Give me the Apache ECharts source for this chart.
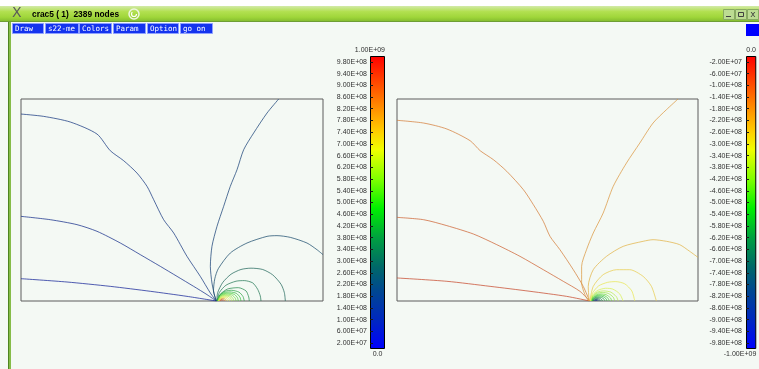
<!DOCTYPE html>
<html>
<head>
<meta charset="utf-8">
<script src="https://cdn.jsdelivr.net/npm/echarts@6/dist/echarts.min.js"></script>
<style>
  html, body { margin: 0; padding: 0; background: #f4f9f4; }
  #main { width: 759px; height: 369px; }
</style>
</head>
<body>
<div id="main"></div>
<script>
// ---- colour scale (0 = minimum / blue, 1 = maximum / red) ----
const colorStops = [
  [0.00, '#0000ff'], [0.10, '#0028c0'], [0.20, '#004890'], [0.28, '#006868'],
  [0.38, '#00a040'], [0.48, '#00f000'], [0.58, '#80ff00'], [0.68, '#f0ff00'],
  [0.74, '#ffd000'], [0.82, '#ff9000'], [0.91, '#ff4800'], [1.00, '#ff0000']
];

// ---- colour-bar ranges and tick values ----
const leftRange = [0, 1e9];
const rightRange = [-1e9, 0];
const leftTicks = [2e7, 6e7, 1e8, 1.4e8, 1.8e8, 2.2e8, 2.6e8, 3e8, 3.4e8, 3.8e8, 4.2e8, 4.6e8, 5e8,
                   5.4e8, 5.8e8, 6.2e8, 6.6e8, 7e8, 7.4e8, 7.8e8, 8.2e8, 8.6e8, 9e8, 9.4e8, 9.8e8];
const rightTicks = [-2e7, -6e7, -1e8, -1.4e8, -1.8e8, -2.2e8, -2.6e8, -3e8, -3.4e8, -3.8e8, -4.2e8, -4.6e8, -5e8,
                    -5.4e8, -5.8e8, -6.2e8, -6.6e8, -7e8, -7.4e8, -7.8e8, -8.2e8, -8.6e8, -9e8, -9.4e8, -9.8e8];

// ---- iso-lines of the left field, model coordinates (x 0..3, y 0..2), crack tip near x = 1.94 ----
const leftLevels = [6e7, 1e8, 1.4e8, 1.8e8, 2.2e8, 3e8, 3.4e8, 3.8e8, 4.2e8, 4.6e8, 5e8,
                    5.4e8, 5.8e8, 6.2e8, 6.6e8, 7e8, 7.8e8, 8.6e8, 9.4e8];
const leftC = [[0,0.221],[0.457,0.188],[0.887,0.145],[1.285,0.096],[1.649,0.046],[1.94,0]];
const leftB = [[0,0.838],[0.291,0.805],[0.556,0.756],[0.755,0.690],[0.987,0.574],[1.185,0.459],
               [1.384,0.343],[1.550,0.244],[1.715,0.145],[1.848,0.063],[1.94,0]];
const leftA = [[0,1.851],[0.225,1.828],[0.490,1.772],[0.755,1.653],[0.887,1.488],[1.020,1.389],
               [1.152,1.267],[1.252,1.135],[1.318,1.003],[1.417,0.805],[1.517,0.673],[1.649,0.442],
               [1.781,0.244],[1.881,0.079],[1.94,0]];
const leftD = [[2.560,2.0],[2.444,1.861],[2.311,1.663],[2.212,1.498],[2.146,1.300],[2.079,1.135],
               [2.013,0.937],[1.947,0.739],[1.897,0.541],[1.881,0.343],[1.897,0.178],[1.925,0.046],[1.94,0]];
const leftE = [[1.942,0],[1.912,0.100],[1.925,0.220],[1.960,0.320],[2.079,0.475],[2.245,0.574],
               [2.444,0.640],[2.543,0.647],[2.675,0.630],[2.841,0.574],[2.940,0.508],[3.0,0.459]];
const leftF = [[1.945,0],[1.954,0.083],[2.003,0.182],[2.086,0.265],[2.185,0.312],[2.285,0.325],
               [2.401,0.312],[2.500,0.259],[2.583,0.166],[2.616,0.083],[2.626,0]];
const leftG = [[1.948,0],[1.970,0.083],[2.036,0.156],[2.136,0.196],[2.218,0.202],[2.302,0.179],
               [2.351,0.116],[2.377,0.050],[2.384,0]];
const leftH = [[1.950,0],[1.980,0.067],[2.053,0.119],[2.159,0.132],[2.235,0.100],[2.262,0.040],[2.268,0]];
const leftI = [[1.952,0],[1.975,0.060],[2.030,0.097],[2.090,0.106],[2.165,0.088],[2.205,0.045],[2.218,0]];
const leftJ = [[1.954,0],[1.972,0.050],[2.020,0.083],[2.075,0.090],[2.140,0.075],[2.175,0.038],[2.185,0]];
const leftK = [[1.956,0],[1.972,0.045],[2.015,0.072],[2.065,0.078],[2.120,0.065],[2.150,0.033],[2.159,0]];
const leftL = [[1.958,0],[1.972,0.040],[2.010,0.063],[2.055,0.068],[2.100,0.057],[2.128,0.029],[2.136,0]];
const leftM = [[1.960,0],[1.973,0.034],[2.005,0.054],[2.045,0.058],[2.085,0.048],[2.106,0.024],[2.113,0]];
const leftN = [[1.962,0],[1.974,0.030],[2.002,0.046],[2.035,0.050],[2.070,0.041],[2.087,0.020],[2.093,0]];
const leftO = [[1.965,0],[1.975,0.025],[2.000,0.039],[2.027,0.042],[2.055,0.034],[2.068,0.017],[2.073,0]];
const leftP = [[1.968,0],[1.977,0.020],[1.998,0.031],[2.020,0.034],[2.040,0.027],[2.050,0.013],[2.053,0]];
const leftQ = [[1.972,0],[1.980,0.016],[1.998,0.025],[2.013,0.026],[2.028,0.020],[2.036,0]];
const leftR = [[1.976,0],[1.983,0.012],[1.998,0.018],[2.010,0.019],[2.020,0.010],[2.022,0]];
const leftS = [[1.982,0],[1.988,0.009],[2.000,0.012],[2.008,0]];
const leftLines = [leftC, leftB, leftA, leftD, leftE, leftF, leftG, leftH, leftI, leftJ,
                   leftK, leftL, leftM, leftN, leftO, leftP, leftQ, leftR, leftS];

// ---- iso-lines of the right field ----
const rightLevels = [-6e7, -1e8, -1.4e8, -1.8e8, -2.2e8, -2.6e8, -3e8, -3.4e8, -3.8e8, -4.2e8,
                     -4.6e8, -5e8, -5.4e8, -5.8e8, -6.2e8, -6.6e8, -7.4e8, -8.2e8, -9e8];
const rightC = [[0,0.228],[0.497,0.195],[0.928,0.145],[1.326,0.096],[1.690,0.046],[1.92,0]];
const rightB = [[0,0.828],[0.265,0.805],[0.497,0.746],[0.762,0.663],[0.994,0.558],[1.226,0.442],
                [1.458,0.310],[1.657,0.195],[1.823,0.096],[1.92,0]];
const rightA = [[0,1.789],[0.265,1.762],[0.497,1.703],[0.729,1.587],[0.829,1.488],[0.961,1.399],
                [1.094,1.284],[1.260,1.102],[1.359,0.954],[1.458,0.789],[1.525,0.640],[1.624,0.508],
                [1.757,0.310],[1.856,0.145],[1.92,0]];
const rightD = [[2.801,2.0],[2.685,1.894],[2.552,1.762],[2.420,1.564],[2.287,1.366],[2.155,1.135],
                [2.055,0.871],[1.956,0.673],[1.889,0.508],[1.840,0.343],[1.840,0.178],[1.873,0.063],[1.91,0]];
const rightE = [[1.915,0],[1.906,0.145],[1.956,0.310],[2.088,0.442],[2.254,0.541],[2.453,0.591],
                [2.552,0.607],[2.685,0.591],[2.817,0.558],[2.917,0.492],[3.0,0.432]];
const rightF = [[1.923,0],[1.956,0.145],[2.055,0.261],[2.188,0.310],[2.320,0.310],[2.453,0.244],
                [2.536,0.145],[2.585,0]];
const rightG = [[1.928,0],[1.950,0.080],[2.010,0.150],[2.100,0.185],[2.180,0.192],[2.270,0.170],
                [2.340,0.100],[2.370,0]];
const rightH = [[1.932,0],[1.950,0.060],[2.000,0.105],[2.080,0.126],[2.150,0.118],[2.220,0.070],[2.253,0]];
const rightI = [[1.935,0],[1.952,0.052],[1.995,0.088],[2.060,0.100],[2.130,0.088],[2.185,0.045],[2.205,0]];
const rightJ = [[1.938,0],[1.953,0.045],[1.990,0.075],[2.045,0.085],[2.105,0.075],[2.155,0.038],[2.170,0]];
const rightK = [[1.941,0],[1.954,0.038],[1.988,0.063],[2.035,0.070],[2.085,0.062],[2.128,0.030],[2.140,0]];
const rightL = [[1.944,0],[1.956,0.032],[1.985,0.053],[2.025,0.060],[2.070,0.052],[2.105,0.026],[2.115,0]];
const rightM = [[1.947,0],[1.957,0.027],[1.983,0.045],[2.018,0.050],[2.055,0.043],[2.085,0.021],[2.092,0]];
const rightN = [[1.950,0],[1.959,0.022],[1.982,0.036],[2.010,0.040],[2.040,0.034],[2.065,0.016],[2.072,0]];
const rightO = [[1.953,0],[1.961,0.018],[1.980,0.029],[2.003,0.032],[2.028,0.026],[2.050,0]];
const rightP = [[1.957,0],[1.964,0.014],[1.980,0.022],[1.998,0.024],[2.018,0.018],[2.035,0]];
const rightQ = [[1.962,0],[1.968,0.010],[1.982,0.016],[1.996,0.017],[2.010,0.011],[2.020,0]];
const rightR = [[1.968,0],[1.974,0.008],[1.986,0.011],[1.998,0.010],[2.006,0]];
const rightS = [[1.975,0],[1.981,0.005],[1.990,0.006],[1.996,0]];
const rightLines = [rightC, rightB, rightA, rightD, rightE, rightF, rightG, rightH, rightI, rightJ,
                    rightK, rightL, rightM, rightN, rightO, rightP, rightQ, rightR, rightS];

// ---- window chrome texts ----
const windowTitle = 'crac5 ( 1)  2389 nodes';
const menuItems = ['Draw', 's22-me', 'Colors', 'Param', 'Option', 'go on'];

// ---------------------------------------------------------------
function hexToRgb(h) {
  return [parseInt(h.slice(1, 3), 16), parseInt(h.slice(3, 5), 16), parseInt(h.slice(5, 7), 16)];
}
function rgbAt(t) {
  t = Math.max(0, Math.min(1, t));
  for (let i = 1; i < colorStops.length; i++) {
    if (t <= colorStops[i][0]) {
      const [t0, c0] = colorStops[i - 1];
      const [t1, c1] = colorStops[i];
      const f = (t - t0) / (t1 - t0);
      const a = hexToRgb(c0), b = hexToRgb(c1);
      return a.map((v, k) => v + (b[k] - v) * f);
    }
  }
  return hexToRgb(colorStops[colorStops.length - 1][1]);
}
// thin iso-lines are drawn slightly muted toward their own grey
function lineColor(t) {
  const c = rgbAt(t);
  const y = 0.299 * c[0] + 0.587 * c[1] + 0.114 * c[2];
  const m = c.map(v => Math.round(v * 0.62 + y * 0.38));
  return 'rgb(' + m.join(',') + ')';
}
// "9.80E+08" style labels
function sci(v) {
  if (v === 0) return '0.0';
  const [m, e] = Math.abs(v).toExponential(2).split('e');
  const n = parseInt(e, 10);
  return (v < 0 ? '-' : '') + m + 'E' + (n < 0 ? '-' : '+') + String(Math.abs(n)).padStart(2, '0');
}
const barGradient = new echarts.graphic.LinearGradient(0, 0, 0, 1,
  colorStops.map(([t, c]) => ({ offset: 1 - t, color: c })).reverse());

const tickFont = { fontFamily: 'Liberation Sans', fontSize: 7, color: '#303030' };

function contourSeries(lines, levels, range, gridIdx) {
  return lines.map((pts, i) => ({
    type: 'line',
    xAxisIndex: gridIdx, yAxisIndex: gridIdx,
    data: pts,
    showSymbol: false, symbol: 'none',
    smooth: 0.25,
    silent: true,
    clip: true,
    lineStyle: { width: 1, opacity: 0.72,
                 color: lineColor((levels[i] - range[0]) / (range[1] - range[0])) },
    z: 3
  }));
}

const chart = echarts.init(document.getElementById('main'), null, { renderer: 'canvas' });

// window decoration
const chrome = [
  { type: 'rect', shape: { x: 0, y: 0, width: 759, height: 6 }, style: { fill: '#ffffff' }, z: 0 },
  { type: 'rect', shape: { x: 0, y: 6, width: 759, height: 16 },
    style: { fill: new echarts.graphic.LinearGradient(0, 0, 0, 1, [
      { offset: 0, color: '#d2eaa8' }, { offset: 0.35, color: '#b2e050' },
      { offset: 0.7, color: '#9fd63a' }, { offset: 1, color: '#80b82e' }]) }, z: 0 },
  { type: 'rect', shape: { x: 0, y: 21, width: 759, height: 1 }, style: { fill: '#6e9e34' }, z: 0 },
  { type: 'text', x: 12, y: 6.5, style: { text: 'X', font: '14px DejaVu Sans', fill: '#5a5a5a' }, z: 1 },
  { type: 'text', x: 32, y: 14.5, style: { text: windowTitle, font: 'bold 8.4px Liberation Sans',
    fill: '#000', verticalAlign: 'middle' }, z: 1 },
  { type: 'circle', shape: { cx: 134, cy: 14, r: 5 }, style: { fill: 'none', stroke: '#eef6e0', lineWidth: 1.5 }, z: 1 },
  { type: 'arc', shape: { cx: 134, cy: 14, r: 2.5, startAngle: 0, endAngle: 4 },
    style: { fill: 'none', stroke: '#ffffff', lineWidth: 1.2 }, z: 1 },
  // minimise / maximise / close boxes
  { type: 'rect', shape: { x: 723.5, y: 9.5, width: 11, height: 10 }, style: { fill: '#bcdc92', stroke: '#88aa62' }, z: 1 },
  { type: 'rect', shape: { x: 735.5, y: 9.5, width: 11, height: 10 }, style: { fill: '#bcdc92', stroke: '#88aa62' }, z: 1 },
  { type: 'rect', shape: { x: 747.5, y: 9.5, width: 11, height: 10 }, style: { fill: '#bcdc92', stroke: '#88aa62' }, z: 1 },
  { type: 'line', shape: { x1: 726, y1: 16.5, x2: 731, y2: 16.5 }, style: { stroke: '#404040', lineWidth: 1 }, z: 2 },
  { type: 'rect', shape: { x: 738.5, y: 12.5, width: 5, height: 4 }, style: { fill: 'none', stroke: '#404040' }, z: 2 },
  { type: 'text', x: 753, y: 14.5, style: { text: 'x', font: '9px DejaVu Sans', fill: '#404040',
    align: 'center', verticalAlign: 'middle' }, z: 2 },
  // left frame edge
  { type: 'rect', shape: { x: 8, y: 22, width: 3, height: 347 }, style: { fill: '#86bc48' }, z: 0 },
  { type: 'rect', shape: { x: 8, y: 22, width: 1, height: 347 }, style: { fill: '#4f8520' }, z: 0 },
  // blue marker on the right of the menu row
  { type: 'rect', shape: { x: 746, y: 24, width: 13, height: 12 }, style: { fill: '#0000ff' }, z: 0 }
];
const menuX = [12, 45, 79, 113, 147, 180];
const menuW = [31, 33, 32, 32, 31, 32];
menuItems.forEach((label, i) => {
  chrome.push({ type: 'rect', shape: { x: menuX[i] + 0.5, y: 23.5, width: menuW[i], height: 10 },
    style: { fill: '#1434ee', stroke: '#8ea0ff', lineWidth: 1 }, z: 1 });
  chrome.push({ type: 'text', x: menuX[i] + 3, y: 28.8, style: { text: label,
    font: '7.5px DejaVu Sans Mono', fill: '#ffffff', verticalAlign: 'middle' }, z: 2 });
});

const hiddenAxis = { show: false };

const option = {
  animation: false,
  backgroundColor: '#f4f9f4',
  graphic: chrome,
  grid: [
    { left: 21, top: 99, width: 302, height: 202, show: true, borderColor: '#5c5c5c', borderWidth: 1, backgroundColor: 'transparent' },
    { left: 397, top: 99, width: 301, height: 202, show: true, borderColor: '#5c5c5c', borderWidth: 1, backgroundColor: 'transparent' },
    { left: 370, top: 56, width: 15, height: 293 },
    { left: 746, top: 56, width: 15, height: 293 }
  ],
  xAxis: [
    { type: 'value', gridIndex: 0, min: 0, max: 3, ...hiddenAxis },
    { type: 'value', gridIndex: 1, min: 0, max: 3, ...hiddenAxis },
    { type: 'category', gridIndex: 2, data: [''], axisLine: { show: false }, axisTick: { show: false },
      axisLabel: { show: false }, name: sci(leftRange[0]), nameLocation: 'middle', nameGap: 2,
      nameTextStyle: { ...tickFont, verticalAlign: 'top' } },
    { type: 'category', gridIndex: 3, position: 'top', data: [''], axisLine: { show: false }, axisTick: { show: false },
      axisLabel: { show: false }, name: sci(rightRange[1]), nameLocation: 'middle', nameGap: 2,
      nameTextStyle: { ...tickFont, verticalAlign: 'bottom' } }
  ],
  yAxis: [
    { type: 'value', gridIndex: 0, min: 0, max: 2, ...hiddenAxis },
    { type: 'value', gridIndex: 1, min: 0, max: 2, ...hiddenAxis },
    { type: 'value', gridIndex: 2, min: leftRange[0], max: leftRange[1], position: 'left', z: 5,
      axisLine: { show: false }, splitLine: { show: false },
      axisTick: { show: true, inside: true, length: 3, customValues: leftTicks, lineStyle: { color: '#1a1a1a' } },
      axisLabel: { customValues: leftTicks, formatter: sci, margin: 3, ...tickFont } },
    { type: 'value', gridIndex: 2, min: leftRange[0], max: leftRange[1], position: 'right',
      axisLine: { show: false }, splitLine: { show: false }, axisTick: { show: false }, axisLabel: { show: false },
      name: sci(leftRange[1]), nameLocation: 'end', nameGap: 2,
      nameTextStyle: { ...tickFont, align: 'right', verticalAlign: 'bottom' } },
    { type: 'value', gridIndex: 3, min: rightRange[0], max: rightRange[1], position: 'left', z: 5,
      axisLine: { show: false }, splitLine: { show: false },
      axisTick: { show: true, inside: true, length: 3, customValues: rightTicks, lineStyle: { color: '#1a1a1a' } },
      axisLabel: { customValues: rightTicks, formatter: sci, margin: 4, ...tickFont } },
    { type: 'value', gridIndex: 3, min: rightRange[0], max: rightRange[1], position: 'right',
      axisLine: { show: false }, splitLine: { show: false }, axisTick: { show: false }, axisLabel: { show: false },
      name: sci(rightRange[0]), nameLocation: 'start', nameGap: 2,
      nameTextStyle: { ...tickFont, align: 'right', verticalAlign: 'top' } }
  ],
  series: [
    ...contourSeries(leftLines, leftLevels, leftRange, 0),
    ...contourSeries(rightLines, rightLevels, rightRange, 1),
    { type: 'bar', xAxisIndex: 2, yAxisIndex: 2, data: [leftRange[1]], barWidth: '100%', silent: true,
      itemStyle: { color: barGradient, borderColor: '#000000', borderWidth: 1 }, z: 2 },
    { type: 'bar', xAxisIndex: 3, yAxisIndex: 4, data: [rightRange[0]], barWidth: '100%', silent: true,
      itemStyle: { color: barGradient, borderColor: '#000000', borderWidth: 1 }, z: 2 }
  ]
};
chart.setOption(option);
</script>
</body>
</html>
